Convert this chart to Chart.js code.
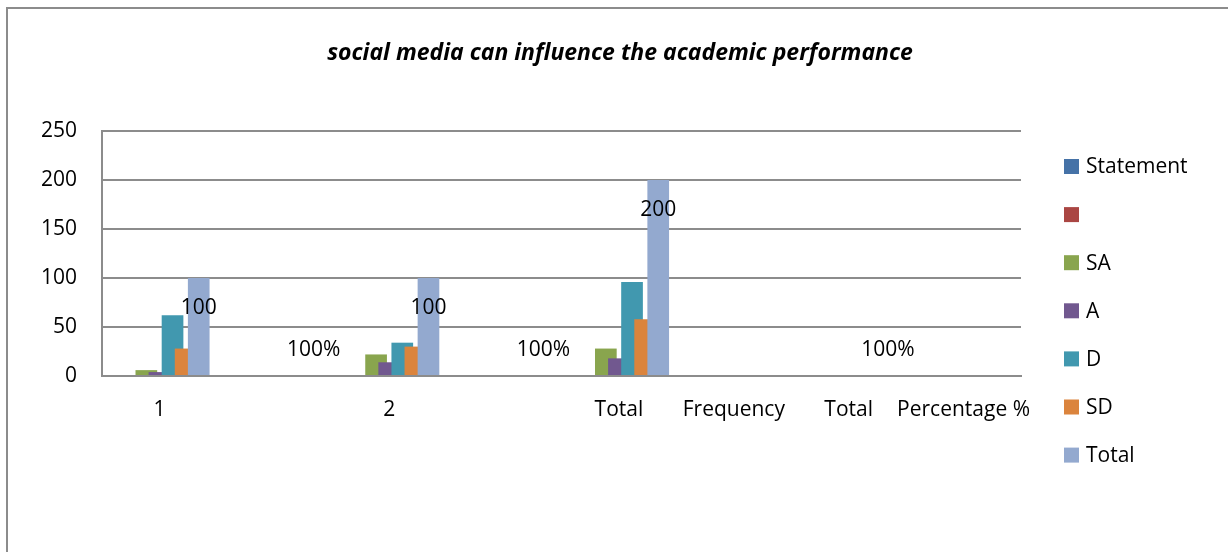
<!DOCTYPE html>
<html>
<head>
<meta charset="utf-8">
<title>social media can influence the academic performance</title>
<script src="https://cdn.jsdelivr.net/npm/chart.js@4.4.1/dist/chart.umd.min.js"></script>
<style>
  html, body { margin: 0; padding: 0; background: #fff; }
  #chart { display: block; }
</style>
</head>
<body>
<canvas id="chart" width="1228" height="552"></canvas>
<script>
/* social media can influence the academic performance - clustered bars */

const chartTitle = 'social media can influence the academic performance';
const categories = ['1', '', '2', '', 'Total', 'Frequency', 'Total', 'Percentage %'];
const seriesNames = ['Statement', '', 'SA', 'A', 'D', 'SD', 'Total'];
const seriesColors = ['#4572A7', '#AA4643', '#89A54E', '#71588F', '#4198AF', '#DB843D', '#93A9CF'];

const statementVals = [null, null, null, null, null, null, null, null];
const blankVals = [null, null, null, null, null, null, null, null];
const saVals = [6, null, 22, null, 28, null, null, null];
const aVals = [4, null, 14, null, 18, null, null, null];
const dVals = [62, null, 34, null, 96, null, null, null];
const sdVals = [28, null, 30, null, 58, null, null, null];
const totalVals = [100, 1, 100, 1, 200, null, 1, null];
const totalLabels = ['100', '100%', '100', '100%', '200', '', '100%', ''];

const yTicks = [0, 50, 100, 150, 200, 250];

const FONT = '"Open Sans", "Noto Sans", sans-serif';
const GRID = '#8c8c8c';

// later series sit on top of earlier ones (Excel overlap), so draw in index order
const drawInOrder = {
  id: 'drawInOrder',
  beforeDatasetsDraw(chart) {
    chart.getSortedVisibleDatasetMetas()
      .slice()
      .sort((a, b) => a.index - b.index)
      .forEach(meta => meta.controller.draw());
    return false;
  }
};

const frame = {
  id: 'frame',
  beforeDraw(chart) {
    const ctx = chart.ctx;
    ctx.save();
    ctx.fillStyle = '#fff';
    ctx.fillRect(0, 0, chart.width, chart.height);
    ctx.strokeStyle = GRID;
    ctx.lineWidth = 2;
    ctx.beginPath();
    ctx.moveTo(7, chart.height);
    ctx.lineTo(7, 8);
    ctx.lineTo(chart.width, 8);
    ctx.stroke();
    ctx.restore();
  }
};

const extras = {
  id: 'extras',
  afterDraw(chart) {
    const ctx = chart.ctx;
    ctx.save();

    // title
    ctx.fillStyle = '#000';
    ctx.font = 'italic bold 23px ' + FONT;
    ctx.textAlign = 'center';
    ctx.textBaseline = 'middle';
    ctx.fillText(chartTitle, 620, 53);

    // data labels on the Total series
    ctx.font = '21px ' + FONT;
    const meta = chart.getDatasetMeta(6);
    meta.data.forEach((bar, i) => {
      const txt = totalLabels[i];
      if (!txt) return;
      const h = bar.base - bar.y;
      const y = h > 50 ? bar.y + 30.5 : bar.base - 25;
      ctx.fillText(txt, bar.x, y);
    });

    // legend
    ctx.textAlign = 'left';
    chart.data.datasets.forEach((ds, i) => {
      const y = 166.5 + i * 48.1;
      ctx.fillStyle = ds.backgroundColor;
      ctx.fillRect(1064, y - 7.5, 15, 15);
      ctx.fillStyle = '#000';
      ctx.fillText(ds.label, 1086, y + 1);
    });

    ctx.restore();
  }
};

const seriesData = [statementVals, blankVals, saVals, aVals, dVals, sdVals, totalVals];

new Chart(document.getElementById('chart'), {
  type: 'bar',
  data: {
    labels: categories,
    datasets: seriesData.map((vals, i) => ({
      label: seriesNames[i],
      data: vals,
      backgroundColor: seriesColors[i],
      borderWidth: 0,
      barPercentage: 1.656,
      categoryPercentage: 0.798,
    }))
  },
  options: {
    responsive: false,
    animation: false,
    devicePixelRatio: 1,
    layout: { padding: { top: 131, right: 207, bottom: 0, left: 0 } },
    plugins: {
      legend: { display: false },
      title: { display: false },
      tooltip: { enabled: false },
    },
    scales: {
      x: {
        grid: { display: false, drawTicks: false, tickLength: 0 },
        border: { display: true, color: GRID, width: 2 },
        ticks: { color: '#000', font: { family: FONT, size: 21 }, padding: 21, maxRotation: 0, autoSkip: false },
        afterFit: s => { s.height = 176; },
      },
      y: {
        min: yTicks[0],
        max: yTicks[yTicks.length - 1],
        afterBuildTicks: s => { s.ticks = yTicks.map(v => ({ value: v })); },
        grid: { color: GRID, lineWidth: 2, drawTicks: false, tickLength: 0 },
        border: { display: true, color: GRID, width: 2 },
        ticks: { color: '#000', font: { family: FONT, size: 21 }, padding: 25 },
        afterFit: s => { s.width = 102; },
      }
    }
  },
  plugins: [frame, drawInOrder, extras]
});
</script>
</body>
</html>
